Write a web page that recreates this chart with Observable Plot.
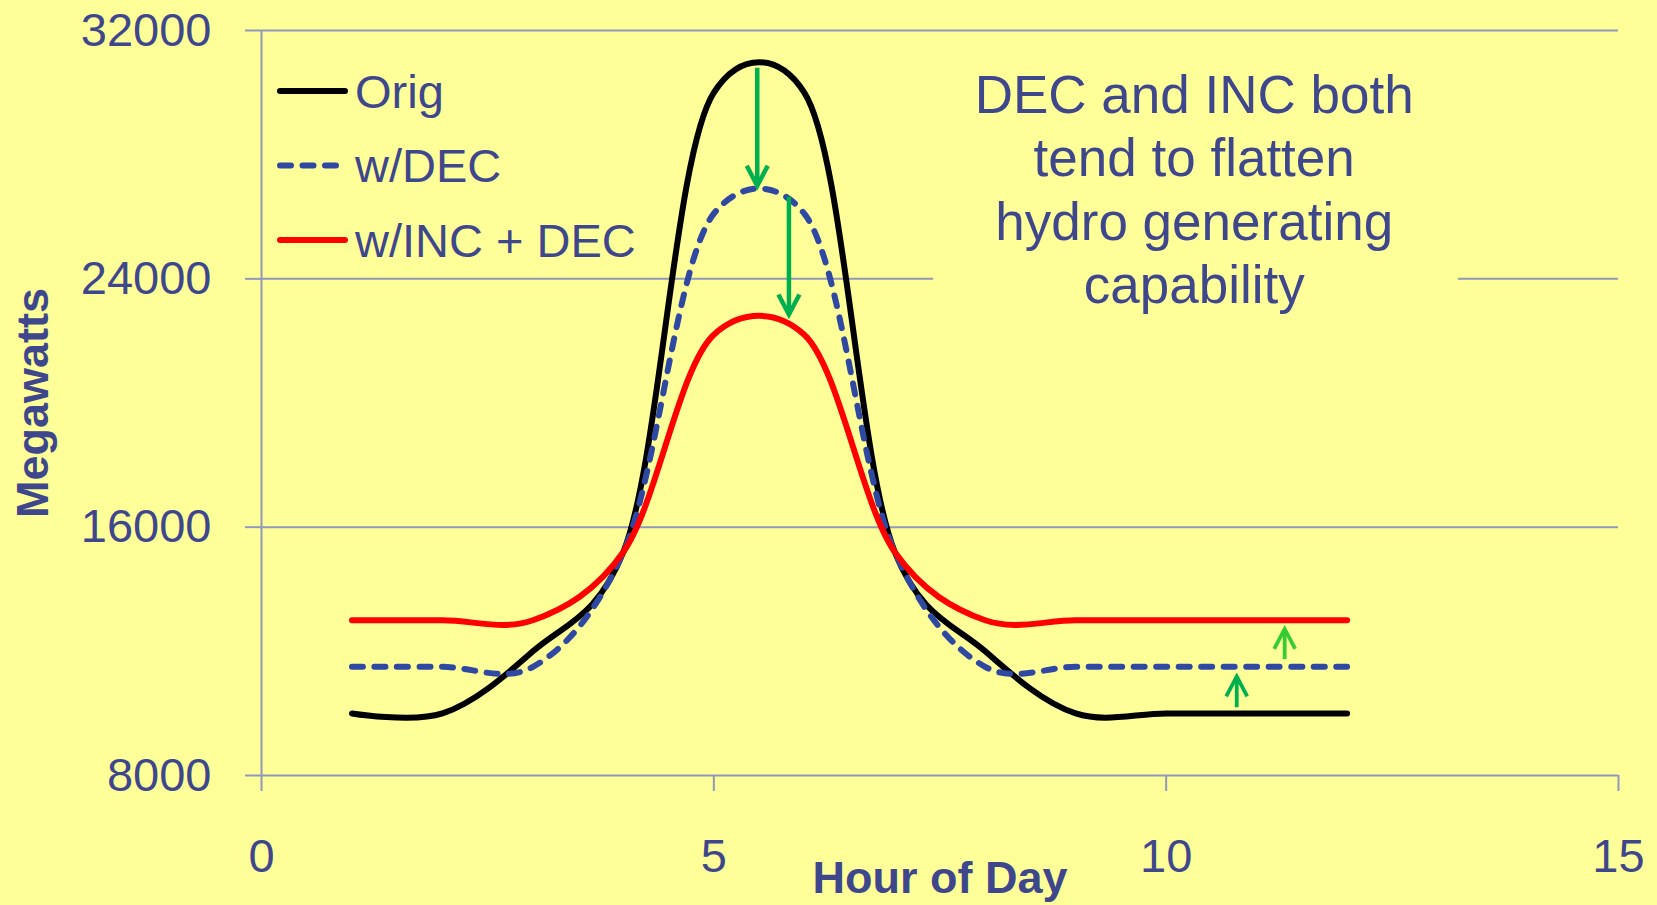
<!DOCTYPE html>
<html><head><meta charset="utf-8">
<script src="https://cdn.jsdelivr.net/npm/d3@7"></script>
<script src="https://cdn.jsdelivr.net/npm/@observablehq/plot@0.6"></script>
<style>html,body{margin:0;padding:0;background:#FFFF99;overflow:hidden}</style>
</head><body><div id="chart"></div>
<script>
// ---- data ----
const hours = [1, 2, 3, 4, 5, 6, 7, 8, 9, 10, 11, 12];
const orig = [10000, 10000, 12000, 15200, 30000, 30000, 15200, 12000, 10000, 10000, 10000, 10000];
const withDec = [11500, 11500, 11500, 15200, 26100, 26100, 15200, 11500, 11500, 11500, 11500, 11500];
const withIncDec = [13000, 13000, 13000, 15200, 22200, 22200, 15200, 13000, 13000, 13000, 13000, 13000];
const seriesNames = ["Orig", "w/DEC", "w/INC + DEC"];
const xTicks = [0, 5, 10, 15];
const yTicks = [8000, 16000, 24000, 32000];
// arrows (hour, from MW, to MW)
const arrowX = [5.48, 5.83, 10.78, 11.31];
const arrowFrom = [30800, 26650, 10200, 11750];
const arrowTo = [27000, 22850, 11190, 12720];
const annotation = "DEC and INC both\ntend to flatten\nhydro generating\ncapability";
const annotX = 10.31;
const annotBox = {x1: 7.43, x2: 13.23, y1: 22600, y2: 31300};

// ---- styles ----
const TEXT = "#3F478C", GRID = "#9098BC", BG = "#FFFF99";
const FONT = "'Liberation Sans', Arial, sans-serif";
const colors = ["#000000", "#2F48A2", "#FF0000"];
const dashes = [null, "11,11.5", null];
const arrowColors = ["#00B050", "#00B050", "#00B050", "#33CC33"];
const arrowWidths = [4.5, 4.5, 3.8, 3.8];
const curveOpts = {curve: "catmull-rom", tension: 0.25};

const rows = (vals) => hours.map((h, i) => ({hour: h, mw: vals[i]}));
const seriesVals = [orig, withDec, withIncDec];
const arrows = arrowX.map((x, i) => ({x, from: arrowFrom[i], to: arrowTo[i], color: arrowColors[i], w: arrowWidths[i], up: arrowTo[i] > arrowFrom[i]}));

const chevUp = {draw(ctx) { ctx.moveTo(-10.5, 20); ctx.lineTo(0, 0); ctx.lineTo(10.5, 20); }};
const chevDown = {draw(ctx) { ctx.moveTo(-10.5, -20); ctx.lineTo(0, 0); ctx.lineTo(10.5, -20); }};

const lineMarks = seriesVals.map((vals, i) => Plot.line(rows(vals), {
  x: "hour", y: "mw", stroke: colors[i], strokeWidth: 6,
  strokeDasharray: dashes[i] ?? undefined, strokeLinecap: "round", strokeLinejoin: "round",
  ...curveOpts
}));

const plot = Plot.plot({
  width: 1657, height: 905,
  marginTop: 30, marginBottom: 130, marginLeft: 261, marginRight: 39,
  style: {background: BG, fontFamily: FONT, overflow: "visible"},
  x: {domain: [0, 15]},
  y: {domain: [8000, 32000]},
  marks: [
    Plot.gridY({ticks: yTicks, stroke: GRID, strokeOpacity: 1, strokeWidth: 2}),
    Plot.rect([annotBox], {x1: "x1", x2: "x2", y1: "y1", y2: "y2", fill: BG}),
    Plot.axisY({ticks: yTicks, tickSize: 16, tickPadding: 34, stroke: GRID, strokeWidth: 2,
      color: TEXT, fontSize: 47, label: null, tickFormat: d => String(d)}),
    Plot.axisX({ticks: xTicks, tickSize: 16, tickPadding: 47, stroke: GRID, strokeWidth: 2,
      color: TEXT, fontSize: 47, label: null, tickFormat: d => String(d)}),
    Plot.ruleX([0], {stroke: GRID, strokeWidth: 2}),
    ...lineMarks,
    Plot.link(arrows, {x1: "x", x2: "x", y1: "from", y2: "to", stroke: "color", strokeWidth: "w"}),
    Plot.dot(arrows.filter(d => d.up), {x: "x", y: "to", symbol: chevUp, stroke: "color", fill: "none", strokeWidth: 3.8, r: 10}),
    Plot.dot(arrows.filter(d => !d.up), {x: "x", y: "to", symbol: chevDown, stroke: "color", fill: "none", strokeWidth: 4.5, r: 10}),
    Plot.text([annotation], {x: [annotX], frameAnchor: "top", lineAnchor: "top", dy: 37,
      fontSize: 53, lineHeight: 1.2, fill: TEXT, textAnchor: "middle"}),
    Plot.text(["Megawatts"], {frameAnchor: "left", dx: -228, rotate: -90, textAnchor: "middle", fontSize: 45, fontWeight: "bold", fill: TEXT}),
    Plot.text(["Hour of Day"], {frameAnchor: "bottom", lineAnchor: "top", dy: 86, textAnchor: "middle", fontSize: 45, fontWeight: "bold", fill: TEXT})
  ]
});
document.getElementById("chart").appendChild(plot);

// ---- legend (inside plot, top-left) ----
const svg = d3.select(plot);
const lg = svg.append("g").attr("font-family", FONT).attr("font-size", 47).attr("fill", TEXT).attr("text-anchor", "start");
seriesNames.forEach((name, i) => {
  const cy = 91 + i * 74.5;
  lg.append("line").attr("x1", 280).attr("x2", 345).attr("y1", cy).attr("y2", cy)
    .attr("stroke", colors[i]).attr("stroke-width", 6).attr("stroke-linecap", "round")
    .attr("stroke-dasharray", dashes[i]);
  lg.append("text").attr("x", 355).attr("y", cy + 16.5).attr("text-anchor", "start").text(name);
});
</script>
</body></html>
